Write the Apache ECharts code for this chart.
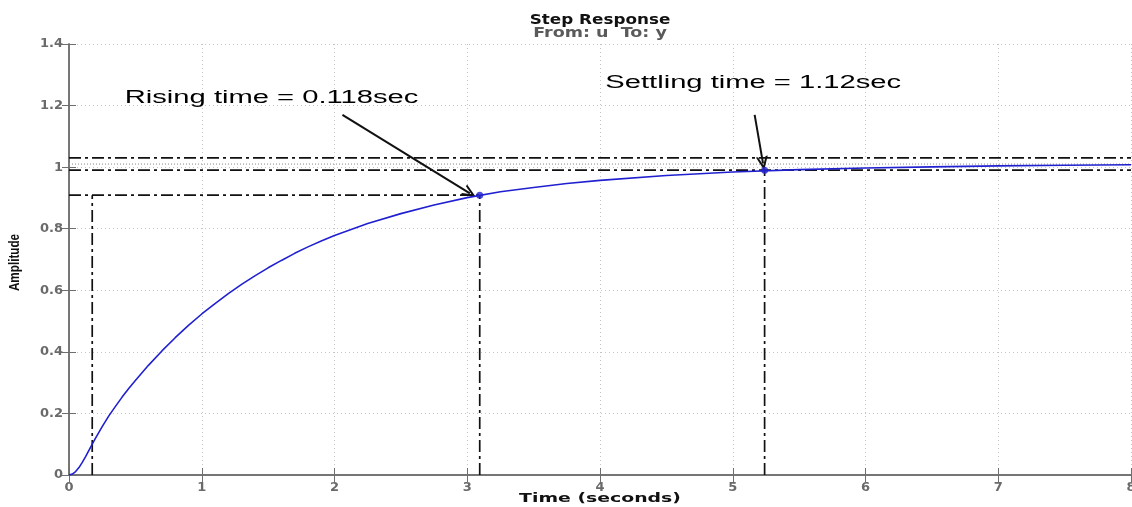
<!DOCTYPE html>
<html><head><meta charset="utf-8">
<script src="https://cdn.jsdelivr.net/npm/echarts@6/dist/echarts.min.js"></script>
<style>html,body{margin:0;padding:0;background:#fff}#c{width:1132px;height:507px}</style>
</head><body><div id="c"></div>
<script>
// ---- data ----
const time      = [0, 0.025, 0.05, 0.075, 0.1, 0.125, 0.15, 0.175, 0.2, 0.25, 0.3, 0.35, 0.4, 0.45, 0.5, 0.6, 0.7, 0.8, 0.9, 1.0, 1.1, 1.2, 1.3, 1.4, 1.5, 1.6, 1.7, 1.8, 1.9, 2.0, 2.25, 2.5, 2.75, 3.0, 3.25, 3.5, 3.75, 4.0, 4.5, 5.0, 5.5, 6.0, 6.5, 7.0, 7.5, 8.0];
const amplitude = [0, 0.003, 0.011, 0.024, 0.041, 0.06, 0.08, 0.1, 0.12, 0.157, 0.192, 0.223, 0.253, 0.281, 0.307, 0.357, 0.403, 0.446, 0.486, 0.523, 0.557, 0.589, 0.619, 0.647, 0.673, 0.697, 0.72, 0.741, 0.76, 0.778, 0.817, 0.849, 0.877, 0.901, 0.920, 0.934, 0.947, 0.957, 0.973, 0.984, 0.992, 0.997, 1.001, 1.004, 1.006, 1.008];
const xRange = [0, 8];
const yRange = [0, 1.4];
const xStep = 1;
const yStep = 0.2;
const finalValue = 1.01;
const bandUpper = 1.03;
const bandLower = 0.99;
const riseStart = [0.175, 0.101];
const riseEnd = [3.094, 0.909];
const settlePoint = [5.24, 0.99];
const titleText = 'Step Response';
const subTitleText = 'From: u  To: y';
const xName = 'Time (seconds)';
const yName = 'Amplitude';
const riseLabel = 'Rising time = 0.118sec';
const settleLabel = 'Settling time = 1.12sec';
const riseLabelAt = [0.42, 1.225];
const settleLabelAt = [4.04, 1.272];
const riseArrow = [[2.06, 1.17], [3.02, 0.915]];
const settleArrow = [[5.165, 1.17], [5.228, 1.012]];

// ---- chart ----
const chart = echarts.init(document.getElementById('c'), null, {renderer: 'canvas'});
const axisGray = '#6e6e6e';
const dashDot = [12, 4, 3, 4];
const blue = '#2020d0';
const curve = time.map((t, i) => [t, amplitude[i]]);
const seg = (a, b, style) => ({
  type: 'line', data: [a, b], showSymbol: false, silent: true, z: 3,
  lineStyle: style, animation: false
});
const blackDD = {color: '#111', width: 1.7, type: dashDot};
const tickLabel = {color: '#6a6a6a', fontFamily: 'DejaVu Sans', fontWeight: 'bold', fontSize: 13, margin: 6,
                   showMinLabel: true, showMaxLabel: true};

const option = {
  animation: false,
  backgroundColor: '#fff',
  grid: {left: 69, right: 1, top: 44, bottom: 32, containLabel: false, outerBoundsMode: 'none'},
  xAxis: [
    {type: 'value', min: xRange[0], max: xRange[1], interval: xStep, position: 'bottom',
     axisLine: {show: true, lineStyle: {color: axisGray, width: 1.5}},
     axisTick: {show: true, inside: true, length: 7, lineStyle: {color: axisGray}},
     axisLabel: tickLabel,
     splitLine: {show: true, lineStyle: {color: '#c4c4c4', type: [1, 3], width: 1}}},
    {type: 'value', min: xRange[0], max: xRange[1], interval: xStep, position: 'top',
     axisLine: {show: true, lineStyle: {color: axisGray, width: 1.5}},
     axisTick: {show: true, inside: true, length: 7, lineStyle: {color: axisGray}},
     axisLabel: {show: false}, splitLine: {show: false}}
  ],
  yAxis: [
    {type: 'value', min: yRange[0], max: yRange[1], interval: yStep, position: 'left',
     axisLine: {show: true, lineStyle: {color: axisGray, width: 1.5}},
     axisTick: {show: true, inside: true, length: 7, lineStyle: {color: axisGray}},
     axisLabel: tickLabel,
     splitLine: {show: true, lineStyle: {color: '#c4c4c4', type: [1, 3], width: 1}}},
    {type: 'value', min: yRange[0], max: yRange[1], interval: yStep, position: 'right',
     axisLine: {show: true, lineStyle: {color: axisGray, width: 1.5}},
     axisTick: {show: true, inside: true, length: 7, lineStyle: {color: axisGray}},
     axisLabel: {show: false}, splitLine: {show: false}}
  ],
  series: [
    seg([xRange[0], finalValue], [xRange[1], finalValue], {color: '#8a8a8a', width: 1, type: [1, 2]}),
    seg([xRange[0], bandUpper], [xRange[1], bandUpper], blackDD),
    seg([xRange[0], bandLower], [xRange[1], bandLower], blackDD),
    seg([xRange[0], riseEnd[1]], [riseEnd[0], riseEnd[1]], blackDD),
    seg([riseStart[0], 0], [riseStart[0], riseEnd[1]], blackDD),
    seg([riseEnd[0], 0], [riseEnd[0], riseEnd[1]], blackDD),
    seg([settlePoint[0], 0], [settlePoint[0], settlePoint[1]], blackDD),
    {type: 'line', data: curve, showSymbol: false, smooth: false, z: 5,
     lineStyle: {color: blue, width: 1.6}},
    {type: 'scatter', data: [riseEnd, settlePoint], symbol: 'circle', symbolSize: 7, z: 6,
     itemStyle: {color: blue}},
    {type: 'line', data: [], z: 7,
     markLine: {silent: true, animation: false,
       symbol: ['none', 'path://M5,0 L10,11 L8.2,11 L5,4 L1.8,11 L0,11 Z'], symbolSize: [12, 14],
       label: {show: false},
       lineStyle: {color: '#111', width: 2, type: 'solid'},
       data: [
         [{coord: riseArrow[0]}, {coord: riseArrow[1]}],
         [{coord: settleArrow[0]}, {coord: settleArrow[1]}]
       ]}}
  ]
};
chart.setOption(option);

function placeLabels() {
  const px = v => chart.convertToPixel({xAxisIndex: 0, yAxisIndex: 0}, v);
  const p1 = px(riseLabelAt);
  const p2 = px(settleLabelAt);
  const g0 = px([xRange[0], yRange[0]]);
  const g1 = px([xRange[1], yRange[1]]);
  const cx = (g0[0] + g1[0]) / 2;
  const cy = (g0[1] + g1[1]) / 2;
  const mk = (p, t) => ({type: 'text', x: p[0], y: p[1], scaleX: 1.62, scaleY: 1, z: 10,
    style: {text: t, font: '18px "Liberation Sans", Arial, sans-serif', fill: '#000', verticalAlign: 'middle', align: 'left'}});
  chart.setOption({graphic: [
    mk(p1, riseLabel), mk(p2, settleLabel),
    {type: 'text', x: cx, y: 20, scaleX: 1.2, z: 10,
     style: {text: titleText, font: 'bold 14px "DejaVu Sans"', fill: '#111', align: 'center', verticalAlign: 'middle'}},
    {type: 'text', x: cx, y: 33, scaleX: 1.25, z: 10,
     style: {text: subTitleText, font: 'bold 14px "DejaVu Sans"', fill: '#5a5a5a', align: 'center', verticalAlign: 'middle'}},
    {type: 'text', x: cx, y: 499, scaleX: 1.45, z: 10,
     style: {text: xName, font: 'bold 13px "DejaVu Sans"', fill: '#111', align: 'center', verticalAlign: 'middle'}},
    {type: 'text', x: 15, y: cy + 3, rotation: Math.PI / 2, scaleX: 0.78, z: 10,
     style: {text: yName, font: 'bold 15px "Liberation Sans"', fill: '#111', align: 'center', verticalAlign: 'middle'}}
  ]});
}
placeLabels();
</script>
</body></html>
